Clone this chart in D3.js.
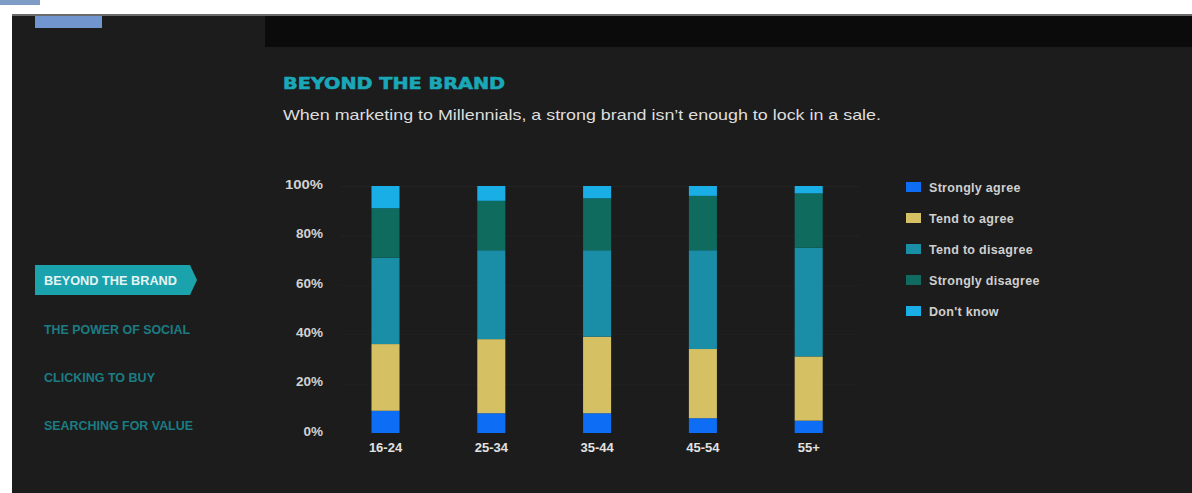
<!DOCTYPE html>
<html>
<head>
<meta charset="utf-8">
<script src="https://cdn.jsdelivr.net/npm/d3@7"></script>
<style>
  html, body { margin: 0; padding: 0; background: #ffffff; }
  svg { display: block; }
</style>
</head>
<body>
<svg id="chart" width="1192" height="493"></svg>
<script>
// Age groups along the x axis
const ageGroups = ["16-24", "25-34", "35-44", "45-54", "55+"];

// Share of respondents (%) per answer, one value per age group
const stronglyAgree    = [9, 8, 8, 6, 5];
const tendToAgree      = [27, 30, 31, 28, 26];
const tendToDisagree   = [35, 36, 35, 40, 44];
const stronglyDisagree = [20, 20, 21, 22, 22];
const dontKnow         = [9, 6, 5, 4, 3];

const seriesNames  = ["Strongly agree", "Tend to agree", "Tend to disagree", "Strongly disagree", "Don't know"];
const seriesColors = ["#0d6df5", "#d5c064", "#1a8ea6", "#0e6b5d", "#19aee6"];

const yTicks = [0, 20, 40, 60, 80, 100];

const navItems = ["BEYOND THE BRAND", "THE POWER OF SOCIAL", "CLICKING TO BUY", "SEARCHING FOR VALUE"];

const title = "BEYOND THE BRAND";
const subtitle = "When marketing to Millennials, a strong brand isn\u2019t enough to lock in a sale.";

// ---- assemble rows for stacking
const allSeries = [stronglyAgree, tendToAgree, tendToDisagree, stronglyDisagree, dontKnow];
const rows = ageGroups.map((g, i) => {
  const r = { group: g };
  seriesNames.forEach((n, s) => { r[n] = allSeries[s][i]; });
  return r;
});
const stacked = d3.stack().keys(seriesNames)(rows);

const svg = d3.select("#chart");

// ---- page frame
svg.append("rect").attr("x", 0).attr("y", 0).attr("width", 40).attr("height", 5).attr("fill", "#7f9cc6");
svg.append("rect").attr("x", 12).attr("y", 14).attr("width", 1180).attr("height", 479).attr("fill", "#1c1c1c");
svg.append("rect").attr("x", 12).attr("y", 14).attr("width", 1180).attr("height", 2).attr("fill", "#6a6a6a");
svg.append("rect").attr("x", 265).attr("y", 16).attr("width", 927).attr("height", 31).attr("fill", "#0b0b0b");
svg.append("rect").attr("x", 35).attr("y", 16).attr("width", 67).attr("height", 12).attr("fill", "#7196cf");

// ---- titles
svg.append("text")
  .attr("x", 283).attr("y", 89)
  .attr("font-family", "DejaVu Sans, sans-serif")
  .attr("font-weight", 900)
  .attr("font-size", 16)
  .attr("fill", "#1aa8b8")
  .attr("stroke", "#1aa8b8")
  .attr("stroke-width", 0.6)
  .attr("textLength", 222)
  .attr("lengthAdjust", "spacingAndGlyphs")
  .text(title);

svg.append("text")
  .attr("x", 283).attr("y", 120)
  .attr("font-family", "Liberation Sans, Arial, sans-serif")
  .attr("font-size", 15)
  .attr("fill", "#dedede")
  .attr("textLength", 598)
  .attr("lengthAdjust", "spacingAndGlyphs")
  .text(subtitle);

// ---- left navigation
const nav = svg.append("g");
const navY = [280, 329, 377, 425];
const navW = [133, 146, 111, 149];
nav.append("path")
  .attr("d", "M35,265 L190,265 L197,280 L190,295 L35,295 Z")
  .attr("fill", "#1aa3ad");
navItems.forEach((t, i) => {
  nav.append("text")
    .attr("x", 44).attr("y", navY[i] + 4.5)
    .attr("font-family", "Liberation Sans Narrow, Liberation Sans, sans-serif")
    .attr("font-weight", 700)
    .attr("font-size", 12.5)
    .attr("fill", i === 0 ? "#e6f4f4" : "#1b7c83")
    .attr("textLength", navW[i])
    .attr("lengthAdjust", "spacingAndGlyphs")
    .text(t);
});

// ---- scales
const x = d3.scaleBand()
  .domain(ageGroups)
  .range([332.6, 861.6])
  .paddingInner(0.735)
  .paddingOuter(0.3675);

const y = d3.scaleLinear().domain([0, 100]).range([433, 186]);

// ---- faint horizontal guides
svg.append("g")
  .selectAll("line")
  .data(yTicks.slice(1))
  .join("line")
  .attr("x1", 340).attr("x2", 860)
  .attr("y1", d => y(d) + 0.5).attr("y2", d => y(d) + 0.5)
  .attr("stroke", "#222222")
  .attr("stroke-width", 1);

// ---- y axis labels
const yAxis = svg.append("g")
  .attr("transform", "translate(323,0)")
  .call(d3.axisLeft(y).tickValues(yTicks).tickFormat(d => d + "%").tickSize(0).tickPadding(0));
yAxis.select(".domain").remove();
yAxis.selectAll("text")
  .attr("font-family", "Liberation Sans Narrow, Liberation Sans, sans-serif")
  .attr("font-weight", 700)
  .attr("font-size", 13.5)
  .attr("fill", "#d2d2d2")
  .attr("dy", "0.32em")
  .attr("transform", "translate(0,-2)");
yAxis.selectAll("text").filter(d => d === 100).attr("textLength", 38).attr("lengthAdjust", "spacingAndGlyphs");

// ---- bars
svg.append("g")
  .selectAll("g")
  .data(stacked)
  .join("g")
  .attr("fill", (d, i) => seriesColors[i])
  .selectAll("rect")
  .data(d => d)
  .join("rect")
  .attr("x", d => x(d.data.group))
  .attr("width", x.bandwidth())
  .attr("y", d => y(d[1]))
  .attr("height", d => y(d[0]) - y(d[1]));

// ---- x axis labels
const xAxis = svg.append("g")
  .attr("transform", "translate(0,443)")
  .call(d3.axisBottom(x).tickSize(0).tickPadding(0));
xAxis.select(".domain").remove();
xAxis.selectAll("text")
  .attr("font-family", "Liberation Sans Narrow, Liberation Sans, sans-serif")
  .attr("font-weight", 700)
  .attr("font-size", 13)
  .attr("fill", "#e2e2e2");

// ---- legend
const legend = svg.append("g").attr("transform", "translate(906,187)");
seriesNames.forEach((n, i) => {
  const row = legend.append("g").attr("transform", `translate(0,${i * 31})`);
  row.append("rect").attr("x", 0).attr("y", -5).attr("width", 15).attr("height", 10).attr("fill", seriesColors[i]);
  row.append("text")
    .attr("x", 23).attr("y", 4.5)
    .attr("font-family", "Liberation Sans, Arial, sans-serif")
    .attr("font-weight", 700)
    .attr("font-size", 12.5)
    .attr("letter-spacing", 0.3)
    .attr("fill", "#cfcfcf")
    .text(n);
});
</script>
</body>
</html>
